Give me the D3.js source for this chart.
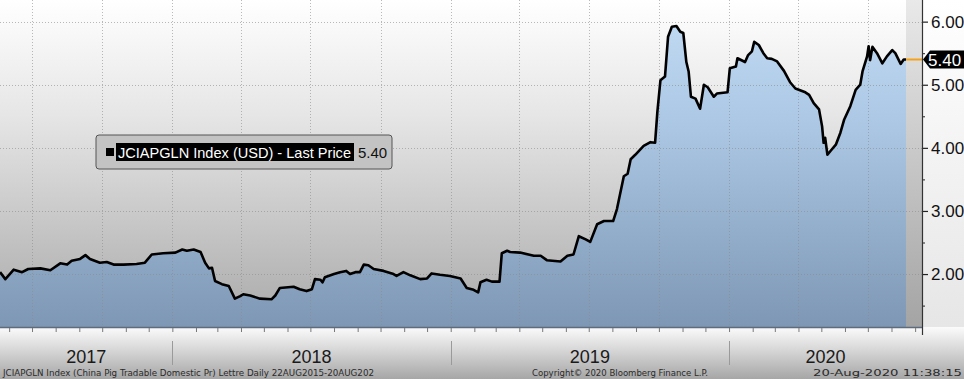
<!DOCTYPE html>
<html>
<head>
<meta charset="utf-8">
<script src="https://cdn.jsdelivr.net/npm/d3@7"></script>
<style>
  body { margin: 0; background: #fff; }
  svg { display: block; }
</style>
</head>
<body>
<script>
// China pig price index, last price
var dates = [
  "2017-05-20","2017-05-27","2017-06-07","2017-06-18","2017-06-26","2017-07-12","2017-07-25",
  "2017-08-07","2017-08-16","2017-08-22","2017-09-02","2017-09-09","2017-09-15","2017-09-28",
  "2017-10-07","2017-10-16","2017-10-29","2017-11-15","2017-11-26","2017-12-05","2017-12-20",
  "2018-01-05","2018-01-14","2018-01-20","2018-01-29","2018-02-07","2018-02-13","2018-02-18",
  "2018-02-22","2018-02-26","2018-03-07","2018-03-16","2018-03-24","2018-03-31","2018-04-04",
  "2018-04-13","2018-04-26","2018-05-11","2018-05-16","2018-05-22","2018-06-09","2018-06-17",
  "2018-06-26","2018-07-03","2018-07-07","2018-07-14","2018-07-17","2018-07-20","2018-08-01",
  "2018-08-09","2018-08-17","2018-08-22","2018-08-29","2018-09-04","2018-09-09","2018-09-15",
  "2018-09-22","2018-10-05","2018-10-18","2018-10-22","2018-10-31","2018-11-09","2018-11-22",
  "2018-12-01","2018-12-07","2018-12-18","2018-12-31","2019-01-14","2019-01-22","2019-01-31",
  "2019-02-06","2019-02-09","2019-02-17","2019-02-24","2019-03-06","2019-03-09","2019-03-16",
  "2019-03-20","2019-04-02","2019-04-20","2019-04-29","2019-05-07","2019-05-25","2019-06-03",
  "2019-06-11","2019-06-18","2019-06-27","2019-07-03","2019-07-12","2019-07-21","2019-08-02",
  "2019-08-07","2019-08-16","2019-08-21","2019-08-25","2019-08-31","2019-09-11","2019-09-20",
  "2019-09-26","2019-09-29","2019-10-03","2019-10-09","2019-10-13","2019-10-18","2019-10-24",
  "2019-10-29","2019-11-02","2019-11-06","2019-11-09","2019-11-12","2019-11-18","2019-11-24",
  "2019-11-29","2019-12-04","2019-12-12","2019-12-16","2019-12-30","2020-01-02","2020-01-10",
  "2020-01-12","2020-01-22","2020-01-26","2020-01-31","2020-02-03","2020-02-09","2020-02-15",
  "2020-02-20","2020-02-26","2020-03-04","2020-03-13","2020-03-21","2020-03-28","2020-04-10",
  "2020-04-15","2020-04-21","2020-04-28","2020-05-02","2020-05-04","2020-05-06","2020-05-09",
  "2020-05-13","2020-05-20","2020-05-26","2020-05-31","2020-06-08","2020-06-15","2020-06-21",
  "2020-06-24","2020-06-30","2020-07-02","2020-07-04","2020-07-07","2020-07-13","2020-07-20",
  "2020-07-26","2020-08-02","2020-08-06","2020-08-13","2020-08-17","2020-08-20"
];
var prices = [
  2.03,1.92,2.07,2.03,2.08,2.09,2.06,
  2.17,2.15,2.21,2.24,2.30,2.24,2.18,
  2.19,2.15,2.15,2.16,2.18,2.31,2.33,
  2.34,2.39,2.37,2.39,2.35,2.18,2.09,
  2.10,1.89,1.84,1.81,1.61,1.65,1.68,
  1.66,1.61,1.60,1.66,1.78,1.80,1.76,
  1.73,1.76,1.92,1.91,1.87,1.95,2.00,
  2.03,2.05,2.00,2.03,2.03,2.15,2.14,
  2.08,2.05,2.00,1.97,2.03,1.98,1.92,
  1.93,2.01,1.99,1.97,1.93,1.78,1.75,
  1.71,1.87,1.91,1.88,1.88,2.33,2.37,
  2.35,2.34,2.29,2.29,2.22,2.20,2.29,
  2.31,2.60,2.55,2.51,2.79,2.84,2.84,
  3.03,3.55,3.59,3.82,3.89,4.03,4.09,
  4.08,4.57,5.07,5.13,5.76,5.92,5.93,
  5.84,5.82,5.36,5.21,4.81,4.78,4.62,
  5.00,4.96,4.81,4.86,4.88,5.26,5.29,
  5.42,5.36,5.47,5.53,5.68,5.63,5.50,
  5.42,5.41,5.37,5.22,5.04,4.94,4.88,
  4.84,4.71,4.61,4.34,4.08,4.16,3.89,
  3.95,4.05,4.24,4.45,4.66,4.92,5.00,
  5.21,5.45,5.61,5.39,5.60,5.50,5.34,
  5.45,5.55,5.50,5.33,5.40,5.40
];
var yTicks = [2, 3, 4, 5, 6];
var yMinorTicks = [1.5, 2.5, 3.5, 4.5, 5.5];
var lastPrice = 5.40;
var viewStart = "2017-05-20";
var viewEnd = "2020-09-10";
var legendLabel = "JCIAPGLN Index (USD) - Last Price";
var footerLeft = "JCIAPGLN Index (China Pig Tradable Domestic Pr) Lettre  Daily 22AUG2015-20AUG202";
var footerMid = "Copyright\u00a9 2020 Bloomberg Finance L.P.";
var footerRight = "20-Aug-2020 11:38:15";

var width = 964, height = 379;
var plotRight = 922, plotBottom = 327;

var parse = d3.timeParse("%Y-%m-%d");
var data = dates.map(function(d, i) { return {date: parse(d), value: prices[i]}; });

var x = d3.scaleTime()
  .domain([parse(viewStart), parse(viewEnd)])
  .range([0, plotRight]);
var y = d3.scaleLinear()
  .domain([1.161, 6.343])
  .range([plotBottom, 0]);

var svg = d3.select("body").append("svg")
  .attr("width", width)
  .attr("height", height);

var defs = svg.append("defs");
function vgrad(id, y1, y2, stops) {
  var g = defs.append("linearGradient").attr("id", id)
    .attr("gradientUnits", "userSpaceOnUse")
    .attr("x1", 0).attr("x2", 0).attr("y1", y1).attr("y2", y2);
  stops.forEach(function(s) {
    g.append("stop").attr("offset", s[0]).attr("stop-color", s[1]);
  });
}
vgrad("bgGrad", 0, plotBottom, [[0, "#ffffff"], [0.35, "#e6e6e6"], [1, "#a9a9a9"]]);
vgrad("areaGrad", 0, plotBottom, [[0, "#c4ddf5"], [0.4, "#aac6e3"], [1, "#7d97b4"]]);
vgrad("futureGrad", 0, plotBottom, [[0, "#e9e9e9"], [1, "#a4a4a4"]]);
vgrad("axisGrad", 0, plotBottom, [[0, "#ffffff"], [1, "#e6e6e6"]]);
vgrad("bandGrad", plotBottom, height, [[0, "#fbfbfb"], [0.45, "#d6d6d6"], [1, "#a6a6a6"]]);

// backgrounds
svg.append("rect").attr("x", plotRight).attr("y", 0)
  .attr("width", width - plotRight).attr("height", plotBottom)
  .style("fill", "url(#axisGrad)");
svg.append("rect").attr("x", 0).attr("y", 0)
  .attr("width", plotRight).attr("height", plotBottom)
  .style("fill", "url(#bgGrad)");

var lastDate = data[data.length - 1].date;
svg.append("rect")
  .attr("x", x(lastDate)).attr("y", 0)
  .attr("width", plotRight - x(lastDate)).attr("height", plotBottom)
  .style("fill", "url(#futureGrad)");

// area under price
var area = d3.area()
  .x(function(d) { return x(d.date); })
  .y0(plotBottom)
  .y1(function(d) { return y(d.value); });
svg.append("path").datum(data)
  .attr("d", area)
  .style("fill", "url(#areaGrad)");

// dotted grid
var grid = svg.append("g").attr("class", "grid");
grid.selectAll(".hgrid").data(yTicks).enter().append("line")
  .attr("x1", 0).attr("x2", plotRight)
  .attr("y1", function(d) { return Math.round(y(d)) + 0.5; })
  .attr("y2", function(d) { return Math.round(y(d)) + 0.5; });
var quarters = d3.timeMonth.every(3).range(x.domain()[0], x.domain()[1]);
grid.selectAll(".vgrid").data(quarters).enter().append("line")
  .attr("x1", function(d) { return Math.round(x(d)) + 0.5; })
  .attr("x2", function(d) { return Math.round(x(d)) + 0.5; })
  .attr("y1", 0).attr("y2", plotBottom);
grid.selectAll("line")
  .style("stroke", "#8c8c8c")
  .style("stroke-opacity", 0.6)
  .style("stroke-width", 1)
  .style("stroke-dasharray", "1,2");

// price line
var line = d3.line()
  .x(function(d) { return x(d.date); })
  .y(function(d) { return y(d.value); });
svg.append("path").datum(data)
  .attr("d", line)
  .style("fill", "none")
  .style("stroke", "#000")
  .style("stroke-width", 2.6)
  .style("stroke-linejoin", "round");

// last price marker line
svg.append("line")
  .attr("x1", x(lastDate)).attr("x2", plotRight)
  .attr("y1", y(lastPrice)).attr("y2", y(lastPrice))
  .style("stroke", "#f5a21b")
  .style("stroke-width", 2);

// bottom band
svg.append("rect").attr("x", 0).attr("y", plotBottom)
  .attr("width", width).attr("height", height - plotBottom)
  .style("fill", "url(#bandGrad)");
svg.append("line")
  .attr("x1", 0).attr("x2", plotRight)
  .attr("y1", plotBottom + 0.5).attr("y2", plotBottom + 0.5)
  .style("stroke", "#5d6b7c").style("stroke-width", 1.5);

var xAxis = d3.axisBottom(x)
  .ticks(d3.timeMonth.every(1))
  .tickSize(4)
  .tickFormat("");
var gx = svg.append("g")
  .attr("transform", "translate(0," + (plotBottom + 1) + ")")
  .call(xAxis);
gx.select(".domain").remove();
gx.selectAll(".tick line").style("stroke", "#777");

// years
var years = d3.timeYear.range(d3.timeYear.floor(x.domain()[0]), x.domain()[1]);
svg.selectAll(".yearSep").data(years.filter(function(d) { return d > x.domain()[0]; }))
  .enter().append("line")
  .attr("x1", function(d) { return Math.round(x(d)) + 0.5; })
  .attr("x2", function(d) { return Math.round(x(d)) + 0.5; })
  .attr("y1", 341).attr("y2", 365)
  .style("stroke", "#9a9a9a").style("stroke-width", 1);
svg.selectAll(".yearText").data(years).enter().append("text")
  .attr("x", function(d) {
    var a = Math.max(x(d), 0);
    var b = Math.min(x(d3.timeYear.offset(d, 1)), plotRight);
    return (a + b) / 2;
  })
  .attr("y", 363)
  .attr("text-anchor", "middle")
  .style("font-family", "'Liberation Sans', Arial, sans-serif")
  .style("font-size", "18px")
  .style("fill", "#1a1a1a")
  .text(function(d) { return d3.timeFormat("%Y")(d); });

// footer
var footer = svg.append("g")
  .style("font-family", "'DejaVu Sans', Verdana, sans-serif")
  .style("font-size", "9px")
  .style("fill", "#2a2a2a");
footer.append("text").attr("x", 3).attr("y", 376)
  .attr("textLength", 371).attr("lengthAdjust", "spacingAndGlyphs")
  .text(footerLeft);
footer.append("text").attr("x", 532).attr("y", 376)
  .attr("textLength", 176).attr("lengthAdjust", "spacingAndGlyphs")
  .text(footerMid);
footer.append("text").attr("x", 813).attr("y", 376)
  .attr("textLength", 149).attr("lengthAdjust", "spacingAndGlyphs")
  .text(footerRight);

// right axis
var yAxis = d3.axisRight(y).tickValues(yTicks).tickSize(6).tickPadding(3)
  .tickFormat(d3.format(".2f"));
var gy = svg.append("g")
  .attr("transform", "translate(" + plotRight + ",0)")
  .call(yAxis);
gy.select(".domain").remove();
gy.selectAll(".tick line").style("stroke", "#222").style("stroke-width", 1.2);
gy.selectAll(".tick text")
  .style("font-family", "'Liberation Sans', Arial, sans-serif")
  .style("font-size", "17px")
  .style("fill", "#111");
var gyMinor = svg.append("g")
  .attr("transform", "translate(" + plotRight + ",0)")
  .call(d3.axisRight(y).tickValues(yMinorTicks).tickSize(3).tickFormat(""));
gyMinor.select(".domain").remove();
gyMinor.selectAll(".tick line").style("stroke", "#222");
svg.append("line")
  .attr("x1", plotRight + 0.5).attr("x2", plotRight + 0.5)
  .attr("y1", 0).attr("y2", 335)
  .style("stroke", "#333").style("stroke-width", 1.2);

// last price tag
var ty = y(lastPrice);
svg.append("path")
  .attr("d", "M" + (plotRight + 1) + "," + ty +
    " L" + (plotRight + 8) + "," + (ty - 9) +
    " L" + width + "," + (ty - 9) +
    " L" + width + "," + (ty + 9) +
    " L" + (plotRight + 8) + "," + (ty + 9) + " Z")
  .style("fill", "#000");
svg.append("text")
  .attr("x", 928).attr("y", ty + 6)
  .style("font-family", "'Liberation Sans', Arial, sans-serif")
  .style("font-size", "17px")
  .style("fill", "#fff")
  .text(d3.format(".2f")(lastPrice));

// legend
var legend = svg.append("g").attr("transform", "translate(96,135)");
legend.append("rect")
  .attr("x", 0).attr("y", 0).attr("width", 296).attr("height", 34)
  .attr("rx", 3).attr("ry", 3)
  .style("fill", "#c3c3c3")
  .style("stroke", "#555")
  .style("stroke-width", 1);
legend.append("rect")
  .attr("x", 10).attr("y", 13).attr("width", 8).attr("height", 8)
  .style("fill", "#000");
legend.append("rect")
  .attr("x", 20).attr("y", 8).attr("width", 238).attr("height", 18)
  .style("fill", "#000");
legend.append("text")
  .attr("x", 22).attr("y", 22.5)
  .attr("textLength", 233).attr("lengthAdjust", "spacingAndGlyphs")
  .style("font-family", "'Liberation Sans', Arial, sans-serif")
  .style("font-size", "14.5px")
  .style("fill", "#fff")
  .text(legendLabel);
legend.append("text")
  .attr("x", 262).attr("y", 22.5)
  .style("font-family", "'Liberation Sans', Arial, sans-serif")
  .style("font-size", "15px")
  .style("fill", "#111")
  .text(d3.format(".2f")(lastPrice));
</script>
</body>
</html>
